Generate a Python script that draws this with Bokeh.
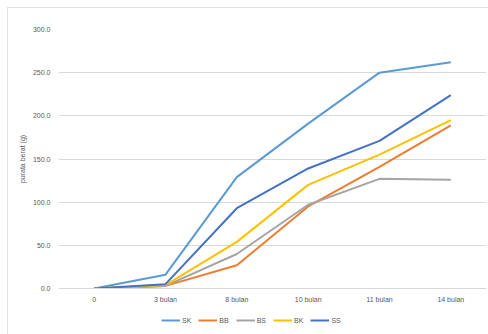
from bokeh.plotting import figure
from bokeh.layouts import column
from bokeh.models import FactorRange, Range1d, Legend, LegendItem, NumeralTickFormatter, FixedTicker
from bokeh.embed import file_html
from bokeh.resources import INLINE

# Mean weight (g) by age
ages = ["0", "3 bulan", "8 bulan", "10 bulan", "11 bulan", "14 bulan"]
sk = [0, 16, 129, 191, 250, 262]
bb = [0, 3, 27, 95, 141, 189]
bs = [0, 3, 40, 97, 127, 126]
bk = [0, 4, 54, 120, 155, 195]
ss = [0, 5, 93, 139, 171, 224]

series = [
    ("SK", sk, "#5b9bd5"),
    ("BB", bb, "#ed7d31"),
    ("BS", bs, "#a5a5a5"),
    ("BK", bk, "#ffc000"),
    ("SS", ss, "#4472c4"),
]

FONT = "Liberation Sans"
LABEL = "#595959"

p = figure(
    x_range=FactorRange(*ages, range_padding=0),
    y_range=Range1d(0, 300),
    width=480, height=304,
    output_backend="svg", toolbar_location=None,
    min_border_left=50, min_border_right=2, min_border_top=21, min_border_bottom=24,
    background_fill_color="white", border_fill_color="white",
)
p.outline_line_color = None

for name, vals, color in series:
    p.line(ages, vals, line_color=color, line_width=2)

p.xgrid.grid_line_color = None
p.ygrid.grid_line_color = "#d9d9d9"
p.ygrid.grid_line_width = 1
p.yaxis.ticker = FixedTicker(ticks=[0, 50, 100, 150, 200, 250, 300])
p.yaxis.formatter = NumeralTickFormatter(format="0.0")

for ax in (p.xaxis[0], p.yaxis[0]):
    ax.axis_line_color = None
    ax.major_tick_line_color = None
    ax.minor_tick_line_color = None
    ax.major_label_text_color = LABEL
    ax.major_label_text_font = FONT
    ax.major_label_text_font_size = "7px"
p.xaxis.axis_line_color = "#d9d9d9"
p.xaxis.major_label_standoff = 1
p.yaxis.major_label_standoff = 2

p.yaxis.axis_label = "purata berat (g)"
p.yaxis.axis_label_text_font = FONT
p.yaxis.axis_label_text_font_size = "7px"
p.yaxis.axis_label_text_font_style = "normal"
p.yaxis.axis_label_text_color = LABEL
p.yaxis.axis_label_standoff = 4

# legend strip under the chart; its proxy lines sit outside the strip's
# y-range so only the legend swatches show
lf = figure(
    width=480, height=22, output_backend="svg", toolbar_location=None,
    x_range=FactorRange(*ages), y_range=Range1d(-2, -1),
    min_border_left=0, min_border_right=0, min_border_top=0, min_border_bottom=0,
    background_fill_color="white", border_fill_color="white",
)
lf.outline_line_color = None
lf.axis.visible = False
lf.grid.visible = False
items = []
for name, vals, color in series:
    r = lf.line(ages, vals, line_color=color, line_width=2)
    items.append(LegendItem(label=name, renderers=[r]))

legend = Legend(
    items=items, orientation="horizontal", location=(103, 10),
    label_text_font=FONT, label_text_font_size="7px", label_text_color=LABEL,
    glyph_width=19, glyph_height=8, label_standoff=2, label_width=9,
    label_height=8, spacing=7,
    padding=2, margin=0, border_line_color=None, background_fill_alpha=0,
)
lf.add_layout(legend)

layout = column(p, lf, spacing=0)
layout.margin = (7, 0, 0, 7)
layout.styles = {"border-top": "1px solid #e2e2e2", "border-left": "1px solid #e2e2e2"}
open("out.html", "w").write(file_html(layout, INLINE))
